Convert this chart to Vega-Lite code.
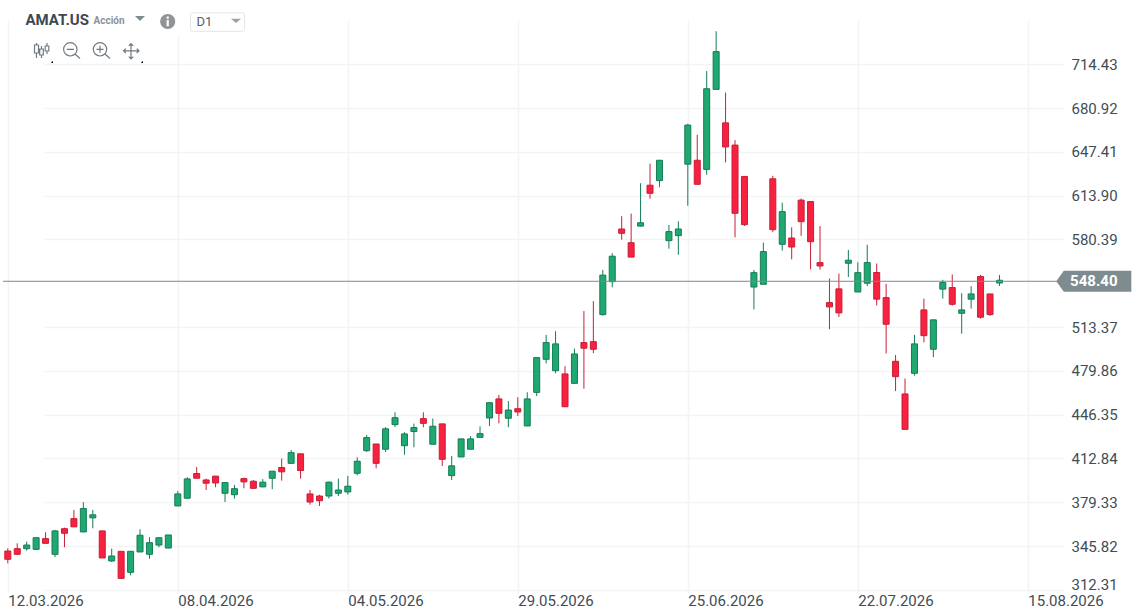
{
  "$schema": "https://vega.github.io/schema/vega-lite/v6.json",
  "width": 1065,
  "height": 573,
  "autosize": {"type": "none"},
  "padding": {"left": 3, "top": 20, "right": 79, "bottom": 19},
  "background": "#ffffff",
  "config": {"view": {"stroke": null}, "font": "Roboto"},
  "data": {"values": [
    {"date":"12.03.2026","open":342.0,"high":344.1,"low":332.6,"close":335.7},
    {"date":"13.03.2026","open":343.8,"high":347.9,"low":339.0,"close":339.5},
    {"date":"16.03.2026","open":343.8,"high":349.2,"low":342.3,"close":346.6},
    {"date":"17.03.2026","open":343.3,"high":352.2,"low":342.8,"close":352.2},
    {"date":"18.03.2026","open":351.5,"high":356.4,"low":347.9,"close":347.9},
    {"date":"19.03.2026","open":339.5,"high":358.2,"low":337.4,"close":357.4},
    {"date":"20.03.2026","open":359.1,"high":359.9,"low":344.9,"close":355.6},
    {"date":"23.03.2026","open":366.8,"high":373.5,"low":360.5,"close":360.5},
    {"date":"24.03.2026","open":356.6,"high":379.4,"low":356.6,"close":374.5},
    {"date":"25.03.2026","open":367.4,"high":373.5,"low":359.4,"close":369.7},
    {"date":"26.03.2026","open":357.4,"high":357.4,"low":336.7,"close":336.7},
    {"date":"27.03.2026","open":334.4,"high":343.8,"low":333.6,"close":338.2},
    {"date":"30.03.2026","open":341.8,"high":341.8,"low":320.6,"close":321.1},
    {"date":"31.03.2026","open":325.7,"high":341.8,"low":323.4,"close":341.8},
    {"date":"01.04.2026","open":341.3,"high":358.7,"low":341.3,"close":354.1},
    {"date":"02.04.2026","open":339.5,"high":352.6,"low":336.1,"close":348.4},
    {"date":"06.04.2026","open":346.6,"high":352.6,"low":344.9,"close":352.2},
    {"date":"07.04.2026","open":344.3,"high":354.3,"low":344.3,"close":354.3},
    {"date":"08.04.2026","open":376.5,"high":388.0,"low":376.5,"close":385.7},
    {"date":"09.04.2026","open":382.4,"high":398.5,"low":382.4,"close":397.2},
    {"date":"10.04.2026","open":401.3,"high":406.2,"low":397.7,"close":397.7},
    {"date":"13.04.2026","open":396.4,"high":397.4,"low":388.7,"close":393.9},
    {"date":"14.04.2026","open":399.3,"high":399.5,"low":390.8,"close":394.1},
    {"date":"15.04.2026","open":386.2,"high":394.4,"low":379.5,"close":394.4},
    {"date":"16.04.2026","open":385.1,"high":392.6,"low":382.1,"close":389.7},
    {"date":"17.04.2026","open":397.4,"high":398.2,"low":390.0,"close":394.9},
    {"date":"20.04.2026","open":395.4,"high":396.4,"low":389.7,"close":390.0},
    {"date":"21.04.2026","open":391.1,"high":397.0,"low":390.8,"close":394.7},
    {"date":"22.04.2026","open":397.7,"high":403.1,"low":389.3,"close":403.1},
    {"date":"23.04.2026","open":405.9,"high":412.8,"low":395.9,"close":402.6},
    {"date":"24.04.2026","open":409.1,"high":419.3,"low":409.1,"close":417.3},
    {"date":"27.04.2026","open":416.4,"high":416.4,"low":397.4,"close":403.6},
    {"date":"28.04.2026","open":385.7,"high":388.7,"low":377.5,"close":379.5},
    {"date":"29.04.2026","open":384.1,"high":385.1,"low":376.5,"close":380.5},
    {"date":"30.04.2026","open":384.1,"high":395.1,"low":382.1,"close":394.7},
    {"date":"01.05.2026","open":386.2,"high":397.4,"low":384.1,"close":388.7},
    {"date":"04.05.2026","open":387.2,"high":399.5,"low":385.1,"close":391.6},
    {"date":"05.05.2026","open":401.5,"high":413.7,"low":399.9,"close":410.7},
    {"date":"06.05.2026","open":418.8,"high":430.9,"low":417.8,"close":428.8},
    {"date":"07.05.2026","open":423.9,"high":423.9,"low":405.3,"close":409.1},
    {"date":"08.05.2026","open":419.9,"high":436.8,"low":417.8,"close":435.5},
    {"date":"11.05.2026","open":438.7,"high":448.2,"low":436.9,"close":444.0},
    {"date":"12.05.2026","open":422.6,"high":432.9,"low":415.7,"close":431.6},
    {"date":"13.05.2026","open":433.4,"high":439.5,"low":421.4,"close":436.5},
    {"date":"14.05.2026","open":443.3,"high":448.2,"low":436.7,"close":439.7},
    {"date":"15.05.2026","open":423.7,"high":443.4,"low":423.7,"close":437.5},
    {"date":"18.05.2026","open":439.3,"high":439.3,"low":407.1,"close":412.2},
    {"date":"19.05.2026","open":399.7,"high":414.8,"low":396.4,"close":407.2},
    {"date":"20.05.2026","open":414.0,"high":427.8,"low":414.0,"close":427.8},
    {"date":"21.05.2026","open":419.9,"high":429.9,"low":419.9,"close":427.8},
    {"date":"22.05.2026","open":429.0,"high":437.4,"low":429.0,"close":431.8},
    {"date":"26.05.2026","open":443.8,"high":455.8,"low":437.7,"close":455.5},
    {"date":"27.05.2026","open":458.4,"high":461.4,"low":439.7,"close":447.4},
    {"date":"28.05.2026","open":443.6,"high":456.8,"low":436.7,"close":449.9},
    {"date":"29.05.2026","open":450.9,"high":459.7,"low":445.3,"close":448.4},
    {"date":"01.06.2026","open":437.7,"high":463.5,"low":437.7,"close":458.4},
    {"date":"02.06.2026","open":463.4,"high":490.0,"low":460.6,"close":490.0},
    {"date":"03.06.2026","open":488.7,"high":507.4,"low":485.5,"close":501.5},
    {"date":"04.06.2026","open":480.0,"high":510.2,"low":478.0,"close":500.5},
    {"date":"05.06.2026","open":477.5,"high":483.4,"low":452.4,"close":452.4},
    {"date":"08.06.2026","open":470.3,"high":496.9,"low":470.3,"close":492.8},
    {"date":"09.06.2026","open":501.5,"high":525.6,"low":466.2,"close":497.2},
    {"date":"10.06.2026","open":502.2,"high":533.2,"low":493.3,"close":496.4},
    {"date":"11.06.2026","open":522.9,"high":557.2,"low":522.1,"close":553.1},
    {"date":"12.06.2026","open":548.1,"high":569.9,"low":543.8,"close":567.6},
    {"date":"15.06.2026","open":588.4,"high":598.2,"low":580.2,"close":585.1},
    {"date":"16.06.2026","open":577.9,"high":600.2,"low":566.9,"close":566.9},
    {"date":"17.06.2026","open":590.6,"high":623.4,"low":590.4,"close":593.2},
    {"date":"18.06.2026","open":621.9,"high":638.4,"low":611.6,"close":615.7},
    {"date":"22.06.2026","open":625.4,"high":641.0,"low":620.3,"close":641.0},
    {"date":"23.06.2026","open":579.5,"high":591.5,"low":573.3,"close":586.4},
    {"date":"24.06.2026","open":583.3,"high":594.3,"low":568.7,"close":588.4},
    {"date":"25.06.2026","open":638.0,"high":668.9,"low":606.2,"close":667.9},
    {"date":"26.06.2026","open":641.0,"high":660.5,"low":622.6,"close":622.6},
    {"date":"29.06.2026","open":634.0,"high":709.2,"low":629.9,"close":695.7},
    {"date":"30.06.2026","open":695.2,"high":739.7,"low":695.2,"close":724.1},
    {"date":"01.07.2026","open":669.6,"high":692.8,"low":639.4,"close":651.2},
    {"date":"02.07.2026","open":652.6,"high":656.4,"low":582.0,"close":600.4},
    {"date":"06.07.2026","open":628.6,"high":628.6,"low":590.7,"close":591.7},
    {"date":"07.07.2026","open":544.0,"high":557.1,"low":526.9,"close":555.0},
    {"date":"08.07.2026","open":546.1,"high":578.0,"low":546.1,"close":571.1},
    {"date":"09.07.2026","open":626.8,"high":629.1,"low":585.9,"close":587.9},
    {"date":"10.07.2026","open":576.7,"high":608.6,"low":571.8,"close":601.7},
    {"date":"13.07.2026","open":581.5,"high":589.7,"low":565.2,"close":574.6},
    {"date":"14.07.2026","open":610.5,"high":611.7,"low":583.1,"close":594.0},
    {"date":"15.07.2026","open":609.4,"high":609.4,"low":557.5,"close":578.7},
    {"date":"16.07.2026","open":562.7,"high":590.6,"low":557.3,"close":560.1},
    {"date":"17.07.2026","open":532.1,"high":550.5,"low":511.7,"close":528.8},
    {"date":"20.07.2026","open":542.6,"high":554.3,"low":521.1,"close":524.2},
    {"date":"21.07.2026","open":562.2,"high":572.4,"low":551.7,"close":564.5},
    {"date":"22.07.2026","open":540.2,"high":563.0,"low":540.2,"close":555.0},
    {"date":"23.07.2026","open":546.9,"high":576.3,"low":544.8,"close":562.7},
    {"date":"24.07.2026","open":555.1,"high":562.0,"low":529.8,"close":534.7},
    {"date":"27.07.2026","open":535.9,"high":546.4,"low":493.2,"close":515.5},
    {"date":"28.07.2026","open":487.2,"high":492.0,"low":464.4,"close":475.4},
    {"date":"29.07.2026","open":462.2,"high":474.0,"low":435.1,"close":435.1},
    {"date":"30.07.2026","open":478.0,"high":507.4,"low":476.2,"close":500.5},
    {"date":"31.07.2026","open":526.5,"high":535.1,"low":501.7,"close":506.8},
    {"date":"03.08.2026","open":496.4,"high":518.9,"low":490.3,"close":518.9},
    {"date":"04.08.2026","open":542.4,"high":549.5,"low":535.1,"close":547.4},
    {"date":"05.08.2026","open":543.6,"high":553.6,"low":529.8,"close":530.8},
    {"date":"06.08.2026","open":523.9,"high":539.3,"low":508.3,"close":526.5},
    {"date":"07.08.2026","open":534.7,"high":544.7,"low":527.5,"close":538.7},
    {"date":"10.08.2026","open":552.0,"high":553.3,"low":519.8,"close":520.9},
    {"date":"11.08.2026","open":538.7,"high":538.7,"low":521.9,"close":522.9},
    {"date":"12.08.2026","open":547.1,"high":553.2,"low":544.8,"close":549.2}
  ]},
  "layer": [
    {
      "mark": {"type": "rule", "strokeWidth": 1},
      "encoding": {
        "x": {
          "field": "date",
          "type": "ordinal",
          "title": null,
          "scale": {
            "type": "point",
            "padding": 0,
            "range": [4.8, 1024.8],
            "domain": ["12.03.2026","13.03.2026","16.03.2026","17.03.2026","18.03.2026","19.03.2026","20.03.2026","23.03.2026","24.03.2026","25.03.2026","26.03.2026","27.03.2026","30.03.2026","31.03.2026","01.04.2026","02.04.2026","06.04.2026","07.04.2026","08.04.2026","09.04.2026","10.04.2026","13.04.2026","14.04.2026","15.04.2026","16.04.2026","17.04.2026","20.04.2026","21.04.2026","22.04.2026","23.04.2026","24.04.2026","27.04.2026","28.04.2026","29.04.2026","30.04.2026","01.05.2026","04.05.2026","05.05.2026","06.05.2026","07.05.2026","08.05.2026","11.05.2026","12.05.2026","13.05.2026","14.05.2026","15.05.2026","18.05.2026","19.05.2026","20.05.2026","21.05.2026","22.05.2026","26.05.2026","27.05.2026","28.05.2026","29.05.2026","01.06.2026","02.06.2026","03.06.2026","04.06.2026","05.06.2026","08.06.2026","09.06.2026","10.06.2026","11.06.2026","12.06.2026","15.06.2026","16.06.2026","17.06.2026","18.06.2026","22.06.2026","23.06.2026","24.06.2026","25.06.2026","26.06.2026","29.06.2026","30.06.2026","01.07.2026","02.07.2026","06.07.2026","07.07.2026","08.07.2026","09.07.2026","10.07.2026","13.07.2026","14.07.2026","15.07.2026","16.07.2026","17.07.2026","20.07.2026","21.07.2026","22.07.2026","23.07.2026","24.07.2026","27.07.2026","28.07.2026","29.07.2026","30.07.2026","31.07.2026","03.08.2026","04.08.2026","05.08.2026","06.08.2026","07.08.2026","10.08.2026","11.08.2026","12.08.2026","13.08.2026","14.08.2026","15.08.2026"]
          },
          "axis": {
            "values": ["12.03.2026","08.04.2026","04.05.2026","29.05.2026","25.06.2026","22.07.2026","15.08.2026"],
            "grid": true,
            "gridColor": "#f2f4f5",
            "gridWidth": 1.5,
            "domain": false,
            "ticks": false,
            "labelAlign": "left",
            "labelAngle": 0,
            "labelBaseline": "top",
            "labelPadding": 0,
            "labelFont": "Roboto",
            "labelFontSize": 15,
            "labelColor": "#414d56",
            "labelOverlap": false,
            "labelBound": false,
            "labelFlush": false
          }
        },
        "y": {
          "field": "low",
          "type": "quantitative",
          "title": null,
          "scale": {"domain": [309.9, 748.3], "nice": false, "zero": false},
          "axis": {
            "orient": "right",
            "values": [312.31,345.82,379.33,412.84,446.35,479.86,513.37,580.39,613.90,647.41,680.92,714.43],
            "format": ".2f",
            "grid": true,
            "gridColor": "#f2f4f5",
            "gridWidth": 1.5,
            "domain": false,
            "ticks": false,
            "labelPadding": 3,
            "labelFont": "Roboto",
            "labelFontSize": 15,
            "labelColor": "#414d56",
            "labelOverlap": false,
            "labelBound": false,
            "labelFlush": false,
            "labelOffset": {"condition": {"test": "datum.value < 320", "value": -5}, "value": 0}
          }
        },
        "y2": {"field": "high"},
        "color": {"condition": {"test": "datum.close >= datum.open", "value": "#137c56"}, "value": "#c81e38"}
      }
    },
    {
      "mark": {"type": "bar", "width": 6, "strokeWidth": 1},
      "encoding": {
        "x": {"field": "date", "type": "ordinal"},
        "y": {"field": "open", "type": "quantitative"},
        "y2": {"field": "close"},
        "fill": {"condition": {"test": "datum.close >= datum.open", "value": "#1fa971"}, "value": "#f8213f"},
        "stroke": {"condition": {"test": "datum.close >= datum.open", "value": "#137c56"}, "value": "#c81e38"}
      }
    },
    {
      "data": {"values": [{"price": 548.4}]},
      "mark": {"type": "rule", "color": "#7c8a90", "strokeWidth": 1},
      "encoding": {"y": {"field": "price", "type": "quantitative"}}
    },
    {
      "data": {"values": [{"price": 548.4}]},
      "mark": {"type": "point", "filled": true, "opacity": 1, "fill": "#7f8c8f", "stroke": null, "size": 4, "xOffset": 66, "shape": "M-37.5,0 L-30,-10.5 L37.5,-10.5 L37.5,10.5 L-30,10.5 Z"},
      "encoding": {
        "x": {"datum": "15.08.2026", "type": "ordinal"},
        "y": {"field": "price", "type": "quantitative"}
      }
    },
    {
      "data": {"values": [{"price": 548.4}]},
      "mark": {"type": "text", "text": "548.40", "font": "Roboto", "fontSize": 15, "fontWeight": "bold", "color": "#ffffff", "xOffset": 66, "align": "center", "baseline": "middle"},
      "encoding": {
        "x": {"datum": "15.08.2026", "type": "ordinal"},
        "y": {"field": "price", "type": "quantitative"}
      }
    },
    {
      "data": {"values": [{}]},
      "mark": {"type": "point", "filled": true, "opacity": 1, "fill": "#ffffff", "stroke": null, "size": 4, "xOffset": -7.8, "yOffset": -20, "shape": "M160,20 H252 V36.5 H160 Z"},
      "encoding": {
        "x": {"datum": "12.03.2026", "type": "ordinal"},
        "y": {"datum": 748.3, "type": "quantitative"}
      }
    },
    {
      "data": {"values": [{}]},
      "mark": {"type": "point", "filled": true, "opacity": 1, "fill": "#7f8a90", "stroke": null, "size": 4, "xOffset": -7.8, "yOffset": -20, "shape": "M135,16 H145 L140,21 Z"},
      "encoding": {
        "x": {"datum": "12.03.2026", "type": "ordinal"},
        "y": {"datum": 748.3, "type": "quantitative"}
      }
    },
    {
      "data": {"values": [{}]},
      "mark": {"type": "point", "filled": true, "opacity": 1, "fill": "#9aa0a5", "stroke": null, "size": 4, "xOffset": -7.8, "yOffset": -20, "shape": "M231,18.7 H241 L236,23 Z"},
      "encoding": {
        "x": {"datum": "12.03.2026", "type": "ordinal"},
        "y": {"datum": 748.3, "type": "quantitative"}
      }
    },
    {
      "data": {"values": [{}]},
      "mark": {"type": "point", "filled": true, "opacity": 1, "fill": "#8f9498", "stroke": null, "size": 4, "xOffset": -7.8, "yOffset": -20, "shape": "M160.2,21.5 A7.5,7.5 0 1 1 175.2,21.5 A7.5,7.5 0 1 1 160.2,21.5 Z"},
      "encoding": {
        "x": {"datum": "12.03.2026", "type": "ordinal"},
        "y": {"datum": 748.3, "type": "quantitative"}
      }
    },
    {
      "data": {"values": [{}]},
      "mark": {"type": "point", "filled": true, "opacity": 1, "fill": "#ffffff", "stroke": null, "size": 4, "xOffset": -7.8, "yOffset": -20, "shape": "M166.6,16.6 H168.8 V18.8 H166.6 Z M166.6,20 H168.8 V26.2 H166.6 Z"},
      "encoding": {
        "x": {"datum": "12.03.2026", "type": "ordinal"},
        "y": {"datum": 748.3, "type": "quantitative"}
      }
    },
    {
      "data": {"values": [{}]},
      "mark": {"type": "point", "filled": false, "opacity": 1, "fill": null, "stroke": "#e3e6e8", "strokeWidth": 1, "size": 4, "xOffset": -7.8, "yOffset": -20, "shape": "M192.5,12.8 H242.5 A2,2 0 0 1 244.5,14.8 V29.3 A2,2 0 0 1 242.5,31.3 H192.5 A2,2 0 0 1 190.5,29.3 V14.8 A2,2 0 0 1 192.5,12.8 Z"},
      "encoding": {
        "x": {"datum": "12.03.2026", "type": "ordinal"},
        "y": {"datum": 748.3, "type": "quantitative"}
      }
    },
    {
      "data": {"values": [{}]},
      "mark": {"type": "point", "filled": false, "opacity": 1, "fill": null, "stroke": "#6f7a80", "strokeWidth": 1.2, "size": 4, "xOffset": -7.8, "yOffset": -20, "shape": "M36.5,43 V45 M36.5,53 V58 M34.5,45 H38.5 V53 H34.5 Z M41.5,46 V49 M41.5,55 V58 M39.7,49 H43.3 V55 H39.7 Z M47,43 V46 M47,51 V54 M45.2,46 H48.8 V51 H45.2 Z M63.6,49.3 A6.7,6.7 0 1 1 77,49.3 A6.7,6.7 0 1 1 63.6,49.3 Z M75,54 L80,58.5 M66.8,49.3 H74 M93.3,49.3 A6.7,6.7 0 1 1 106.7,49.3 A6.7,6.7 0 1 1 93.3,49.3 Z M105,54 L110,58.5 M96.5,49.3 H103.5 M100,45.8 V52.8 M123.5,50.8 H139 M131,43.5 V59 M125.8,48.6 L123.5,50.8 L125.8,53 M136.7,48.6 L139,50.8 L136.7,53 M128.8,45.8 L131,43.5 L133.2,45.8 M128.8,56.7 L131,59 L133.2,56.7"},
      "encoding": {
        "x": {"datum": "12.03.2026", "type": "ordinal"},
        "y": {"datum": 748.3, "type": "quantitative"}
      }
    },
    {
      "data": {"values": [{}]},
      "mark": {"type": "point", "filled": true, "opacity": 1, "fill": "#111111", "stroke": null, "size": 4, "xOffset": -7.8, "yOffset": -20, "shape": "M53,60.8 V63 H50.8 Z M143,60.8 V63 H140.8 Z"},
      "encoding": {
        "x": {"datum": "12.03.2026", "type": "ordinal"},
        "y": {"datum": 748.3, "type": "quantitative"}
      }
    },
    {
      "data": {"values": [{}]},
      "mark": {"type": "text", "text": "AMAT.US", "font": "Roboto", "fontSize": 15, "fontWeight": "bold", "color": "#3d4852", "align": "left", "baseline": "middle", "xOffset": 17.7, "yOffset": 0},
      "encoding": {
        "x": {"datum": "12.03.2026", "type": "ordinal"},
        "y": {"datum": 748.3, "type": "quantitative"}
      }
    },
    {
      "data": {"values": [{}]},
      "mark": {"type": "text", "text": "Acción", "font": "Roboto", "fontSize": 10, "fontWeight": "bold", "color": "#8a9299", "align": "left", "baseline": "middle", "xOffset": 85.7, "yOffset": 1},
      "encoding": {
        "x": {"datum": "12.03.2026", "type": "ordinal"},
        "y": {"datum": 748.3, "type": "quantitative"}
      }
    },
    {
      "data": {"values": [{}]},
      "mark": {"type": "text", "text": "D1", "font": "Roboto", "fontSize": 13, "color": "#55606a", "align": "left", "baseline": "middle", "xOffset": 188.7, "yOffset": 2},
      "encoding": {
        "x": {"datum": "12.03.2026", "type": "ordinal"},
        "y": {"datum": 748.3, "type": "quantitative"}
      }
    }
  ]
}
